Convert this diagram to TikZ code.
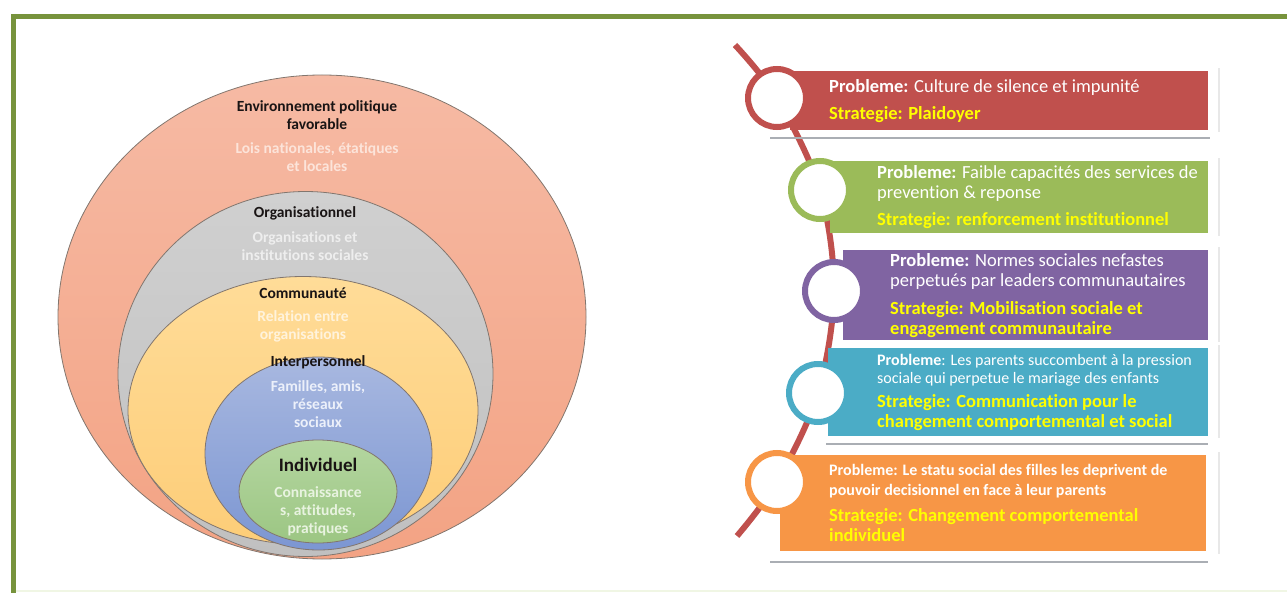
\documentclass[tikz,border=0pt]{standalone}
\usepackage{fontspec}
\setmainfont{Carlito}[Ligatures=NoCommon]
\usetikzlibrary{positioning}

\definecolor{framegreen}{RGB}{119,147,60}
\definecolor{paleline}{RGB}{240,246,228}
\definecolor{edgegray}{RGB}{130,118,110}
\definecolor{salmontop}{RGB}{246,186,164}
\definecolor{salmonbot}{RGB}{243,163,132}
\definecolor{greytop}{RGB}{208,208,208}
\definecolor{greybot}{RGB}{192,192,192}
\definecolor{yellowtop}{RGB}{255,220,152}
\definecolor{yellowbot}{RGB}{253,205,120}
\definecolor{bluetop}{RGB}{168,184,224}
\definecolor{bluebot}{RGB}{124,150,210}
\definecolor{greentop}{RGB}{180,214,160}
\definecolor{greenbot}{RGB}{156,198,131}
\definecolor{headtext}{RGB}{25,20,20}
\definecolor{envtext}{RGB}{252,228,218}
\definecolor{orgtext}{RGB}{238,238,238}
\definecolor{comtext}{RGB}{255,243,220}
\definecolor{intertext}{RGB}{236,240,250}
\definecolor{indtext}{RGB}{232,243,224}
\definecolor{probred}{RGB}{192,80,77}
\definecolor{probgreen}{RGB}{155,187,89}
\definecolor{probpurple}{RGB}{128,100,162}
\definecolor{probteal}{RGB}{75,172,198}
\definecolor{proborange}{RGB}{247,150,70}
\definecolor{stratyellow}{RGB}{255,255,0}
\definecolor{shadowgray}{RGB}{170,174,180}
\definecolor{edgeshadow}{RGB}{232,232,232}

\newcommand{\strat}[1]{\textcolor{stratyellow}{\bfseries\fontsize{18.5}{20}\selectfont #1}}

\tikzset{
	layer/.style={draw=edgegray, line width=.8pt},
	head/.style={font=\bfseries\fontsize{15.5}{18}\selectfont, text=headtext, align=center, inner sep=0},
	sub/.style={font=\bfseries\fontsize{15.5}{18}\selectfont, align=center, inner sep=0},
	card/.style={anchor=north west, inner sep=0, fill=#1},
	ring/.style={circle, draw=#1, line width=6pt, fill=white, minimum size=58pt, inner sep=0},
	stem/.style={draw=probred, line width=6pt},
	note/.style={anchor=west, align=left, text=white, inner sep=0, font=\fontsize{18.5}{20}\selectfont},
	shade/.style={draw=shadowgray, line width=2.5pt},
	sideshade/.style={draw=edgeshadow, line width=2pt}
}

\begin{document}
\begin{tikzpicture}[x=1pt, y=-1pt]
	\useasboundingbox (0,0) rectangle (1287,593);

	% frame
	\draw[paleline, line width=2pt] (16,591) -- (1287,591);
	\draw[framegreen, line width=5pt] (11,16.5) -- (1287,16.5);
	\draw[framegreen, line width=5pt] (13.5,14) -- (13.5,593);

	% nested levels
	\draw[layer, top color=salmontop, bottom color=salmonbot] (322,317) ellipse [x radius=264, y radius=242];
	\draw[layer, top color=greytop, bottom color=greybot] (305.5,374) ellipse [x radius=187.5, y radius=182.5];
	\draw[layer, top color=yellowtop, bottom color=yellowbot] (303,410.5) ellipse [x radius=175, y radius=134];
	\draw[layer, top color=bluetop, bottom color=bluebot] (318.5,453.5) ellipse [x radius=113.5, y radius=96.5];
	\draw[layer, top color=greentop, bottom color=greenbot] (318,491.5) ellipse [x radius=79, y radius=51.5];

	\node[head] (env) at (317,115) {Environnement politique\\favorable};
	\node[sub, text=envtext] (envsub) at (317,157) {Lois nationales, étatiques\\et locales};
	\node[head] (org) at (305,213) {Organisationnel};
	\node[sub, text=orgtext] (orgsub) at (305,246) {Organisations et\\institutions sociales};
	\node[head] (com) at (303,293) {Communauté};
	\node[sub, text=comtext] (comsub) at (303,326) {Relation entre\\organisations};
	\node[head] (inter) at (318,362) {Interpersonnel};
	\node[sub, text=intertext] (intersub) at (318,404) {Familles, amis,\\réseaux\\sociaux};
	\node[head, font=\bfseries\fontsize{19}{22}\selectfont] (ind) at (318,465) {Individuel};
	\node[sub, text=indtext] (indsub) at (318,511) {Connaissance\\s, attitudes,\\pratiques};

	% timeline
	\coordinate (stemtop) at (735,45);
	\coordinate (k1) at (777,98);
	\coordinate (k2) at (820,190);
	\coordinate (k3) at (834,291);
	\coordinate (k4) at (818,393);
	\coordinate (k5) at (777,482);
	\coordinate (stemend) at (737,536);
	\draw[stem] plot[smooth, tension=.55] coordinates {(stemtop) (k1) (k2) (k3) (k4) (k5) (stemend)};

	\draw[shade] (770,138) -- (1210,138);
	\draw[shade] (826,444) -- (1208,444);
	\draw[shade] (770,562) -- (1208,562);
	\foreach \ya/\yb in {68/132, 158/236, 247/342, 345/438, 452/554}
		\draw[sideshade] (1219,\ya) -- (1219,\yb);

	\node[card=probred, minimum width=418, minimum height=59] (b1) at (790,71) {};
	\node[card=probgreen, minimum width=378, minimum height=72] (b2) at (830,161) {};
	\node[card=probpurple, minimum width=365, minimum height=90] (b3) at (843,250) {};
	\node[card=probteal, minimum width=380, minimum height=88] (b4) at (828,348) {};
	\node[card=proborange, minimum width=426, minimum height=96] (b5) at (780,455) {};

	\node[note] (t1) at ([xshift=39]b1.west) {\textbf{Probleme:} Culture de silence et impunité\\[7pt]
		\strat{Strategie: Plaidoyer}};
	\node[note] (t2) at ([xshift=47]b2.west) {\textbf{Probleme:} Faible capacités des services de\\
		prevention \& reponse\\[7pt]
		\strat{Strategie: renforcement institutionnel}};
	\node[note] (t3) at ([xshift=47]b3.west) {\textbf{Probleme:} Normes sociales nefastes\\
		perpetués par leaders communautaires\\[8pt]
		\strat{Strategie: Mobilisation sociale et}\\
		\strat{engagement communautaire}};
	\node[note, font=\fontsize{16}{18}\selectfont] (t4) at ([xshift=49]b4.west) {\textbf{Probleme}: Les parents succombent à la pression\\
		sociale qui perpetue le mariage des enfants\\[6pt]
		\strat{Strategie: Communication pour le}\\[2pt]
		\strat{changement comportemental et social}};
	\node[note, font=\bfseries\fontsize{16}{20}\selectfont] (t5) at ([xshift=49]b5.west) {Probleme: Le statu social des filles les deprivent de\\
		pouvoir decisionnel en face à leur parents\\[6pt]
		\strat{Strategie: Changement comportemental}\\
		\strat{individuel}};

	\node[ring=probred] (c1) at (k1) {};
	\node[ring=probgreen] (c2) at (k2) {};
	\node[ring=probpurple] (c3) at (k3) {};
	\node[ring=probteal] (c4) at (k4) {};
	\node[ring=proborange] (c5) at (k5) {};
\end{tikzpicture}
\end{document}
